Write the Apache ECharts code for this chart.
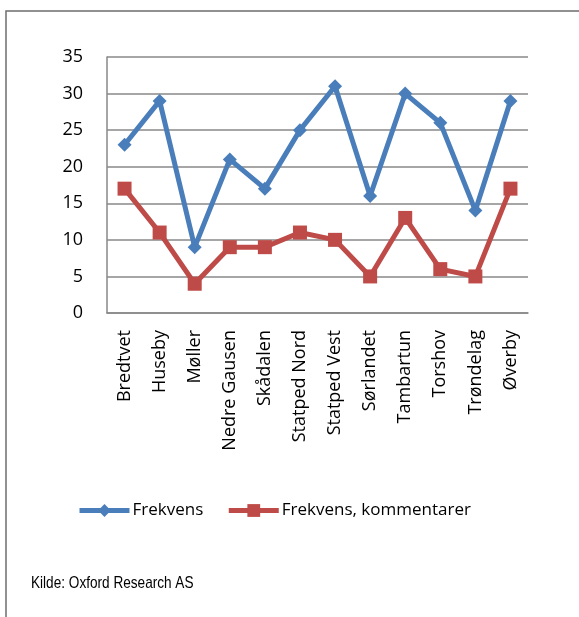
<!DOCTYPE html>
<html>
<head>
<meta charset="utf-8">
<script src="https://cdn.jsdelivr.net/npm/echarts@6/dist/echarts.min.js"></script>
<style>
  html, body { margin: 0; padding: 0; background: #fff; }
  #chart { width: 579px; height: 617px; }
</style>
</head>
<body>
<div id="chart"></div>
<script>
// Institutions along the category axis
const categories = ['Bredtvet', 'Huseby', 'Møller', 'Nedre Gausen', 'Skådalen', 'Statped Nord',
  'Statped Vest', 'Sørlandet', 'Tambartun', 'Torshov', 'Trøndelag', 'Øverby'];
// Frequency counts
const frekvens = [23, 29, 9, 21, 17, 25, 31, 16, 30, 26, 14, 29];
const frekvensKommentarer = [17, 11, 4, 9, 9, 11, 10, 5, 13, 6, 5, 17];
const seriesNames = ['Frekvens', 'Frekvens, kommentarer'];
const sourceNote = 'Kilde: Oxford Research AS';

const BLUE = '#4A7EBB';
const RED = '#BE4B48';
const GRID = '#888888';
const FONT = '"Open Sans", "Noto Sans", sans-serif';

const chart = echarts.init(document.getElementById('chart'));
chart.setOption({
  animation: false,
  backgroundColor: '#ffffff',
  textStyle: { fontFamily: FONT },
  graphic: [
    {
      type: 'rect',
      shape: { x: 6, y: 11, width: 700, height: 700 },
      style: { fill: 'none', stroke: '#6e6e6e', lineWidth: 1.5 },
      silent: true
    },
    {
      // condensed source line
      type: 'text',
      x: 31, y: 575,
      scaleX: 0.8,
      style: {
        text: sourceNote,
        fontFamily: '"Liberation Sans", Arial, sans-serif',
        fontSize: 17,
        fill: '#000'
      }
    }
  ],
  grid: { left: 107, right: 51, top: 57, bottom: 304, containLabel: false },
  legend: {
    left: 72,
    top: 497,
    itemWidth: 50,
    itemHeight: 16,
    itemGap: 23,
    textStyle: { fontFamily: FONT, fontSize: 17, color: '#000', padding: [0, 0, 0, -2] },
    data: [
      { name: seriesNames[0], lineStyle: { width: 5 } },
      { name: seriesNames[1], lineStyle: { width: 5 } }
    ]
  },
  xAxis: {
    type: 'category',
    data: categories,
    boundaryGap: true,
    axisLine: { lineStyle: { color: GRID, width: 1.5 } },
    axisTick: { show: false },
    axisLabel: {
      rotate: 90,
      margin: 17,
      interval: 0,
      fontFamily: FONT,
      fontSize: 18,
      color: '#000'
    }
  },
  yAxis: {
    type: 'value',
    min: 0,
    max: 35,
    interval: 5,
    axisLine: { show: true, lineStyle: { color: GRID, width: 1.5 } },
    axisTick: { show: false },
    splitLine: { lineStyle: { color: GRID, width: 1.5 } },
    axisLabel: { margin: 24, fontFamily: FONT, fontSize: 18, color: '#000' }
  },
  series: [
    {
      name: seriesNames[0],
      type: 'line',
      data: frekvens,
      symbol: 'diamond',
      symbolSize: 14,
      showAllSymbol: true,
      lineStyle: { color: BLUE, width: 5 },
      itemStyle: { color: BLUE },
      z: 3
    },
    {
      name: seriesNames[1],
      type: 'line',
      data: frekvensKommentarer,
      symbol: 'rect',
      symbolSize: 14,
      showAllSymbol: true,
      lineStyle: { color: RED, width: 5 },
      itemStyle: { color: RED },
      z: 2
    }
  ]
});
</script>
</body>
</html>
